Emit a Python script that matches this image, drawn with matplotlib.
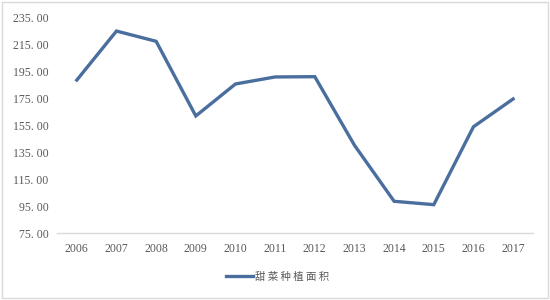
import matplotlib
matplotlib.use("Agg")
import matplotlib.pyplot as plt
from matplotlib.patches import Rectangle

years = ["2006", "2007", "2008", "2009", "2010", "2011", "2012", "2013", "2014", "2015", "2016", "2017"]
area = [188.3, 224.6, 217.0, 161.7, 185.4, 190.6, 190.8, 140.0, 98.5, 96.0, 153.7, 174.3]
series_name = "甜菜种植面积"
yticks = [75, 95, 115, 135, 155, 175, 195, 215, 235]

fig = plt.figure(figsize=(5.5, 3.0), dpi=100)
fig.patch.set_facecolor("white")
fig.add_artist(Rectangle((0.004, 0.007), 0.992, 0.986, transform=fig.transFigure,
                         fill=False, edgecolor="#d9d9d9", linewidth=1.0))

ax = fig.add_axes([0.1036, 0.2233, 0.8654, 0.72])
x = list(range(len(years)))
line, = ax.plot(x, area, color="#4a6e9e", linewidth=2.4, solid_joinstyle="miter",
                label=series_name)

ax.set_xlim(-0.5, len(years) - 0.5)
ax.set_ylim(75, 235)
ax.set_yticks(yticks)
ax.set_yticklabels([f"{v:.2f}".replace(".", ". ") for v in yticks],
                   family=["Liberation Serif", "DejaVu Serif"], fontsize=8.5, color="#595959")
ax.set_xticks(x)
ax.set_xticklabels(years, family=["Liberation Serif", "DejaVu Serif"], fontsize=8.5, color="#595959")
ax.tick_params(axis="both", length=0)
ax.tick_params(axis="x", pad=7)
ax.tick_params(axis="y", pad=6)

for s in ["top", "right", "left"]:
    ax.spines[s].set_visible(False)
ax.spines["bottom"].set_color("#d9d9d9")
ax.spines["bottom"].set_linewidth(1.0)

leg = fig.legend(handles=[line], labels=[" ".join(series_name)], loc="center",
                 bbox_to_anchor=(0.505, 0.077),
                 frameon=False, handlelength=2.6, handletextpad=0.15,
                 prop={"family": ["Noto Sans CJK SC", "DejaVu Sans"], "size": 7.5})
for t in leg.get_texts():
    t.set_color("#595959")

fig.savefig("out.png", dpi=100, facecolor="white")
